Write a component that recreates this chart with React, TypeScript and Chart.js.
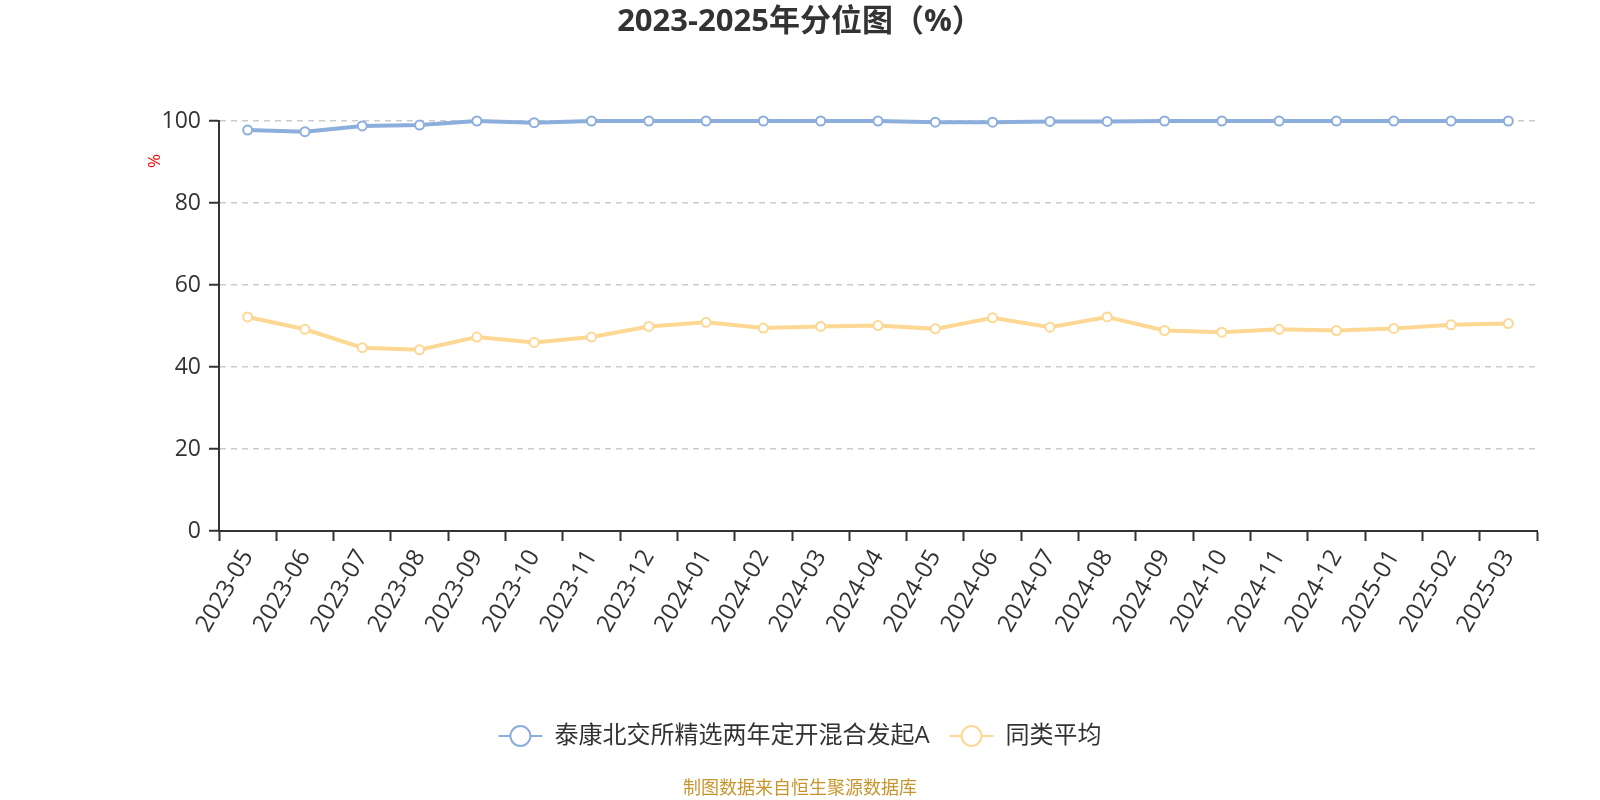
import React, { useEffect, useRef } from "react";
import { Chart, registerables } from "chart.js";

Chart.register(...registerables);

const TITLE = "2023-2025年分位图（%）";
const FOOTER = "制图数据来自恒生聚源数据库";
const Y_NAME = "%";
const categories = [
  "2023-05", "2023-06", "2023-07", "2023-08", "2023-09", "2023-10", "2023-11", "2023-12",
  "2024-01", "2024-02", "2024-03", "2024-04", "2024-05", "2024-06", "2024-07", "2024-08",
  "2024-09", "2024-10", "2024-11", "2024-12", "2025-01", "2025-02", "2025-03",
];
const fundName = "泰康北交所精选两年定开混合发起A";
const fundValues = [
  97.8, 97.4, 98.8, 99.0, 100, 99.6, 100, 100, 100, 100, 100, 100, 99.7, 99.7, 99.9, 99.9,
  100, 100, 100, 100, 100, 100, 100,
];
const avgName = "同类平均";
const avgValues = [
  52.2, 49.2, 44.7, 44.2, 47.3, 46.0, 47.3, 49.9, 50.9, 49.5, 49.9, 50.1, 49.3, 52.0, 49.7, 52.2,
  48.9, 48.5, 49.2, 48.9, 49.4, 50.3, 50.6,
];
const yTicks = [0, 20, 40, 60, 80, 100];

const BLUE = "#8caedd";
const YELLOW = "#fdd894";
const FONT = '"Open Sans", "Noto Sans CJK SC", sans-serif';

const decorPlugin = {
  id: "decor",
  afterDraw(chart: any) {
    const ctx = chart.ctx;
    ctx.save();
    // title
    ctx.fillStyle = "#333";
    ctx.font = `bold 31px ${FONT}`;
    ctx.textAlign = "center";
    ctx.textBaseline = "middle";
    ctx.fillText(TITLE, 800, 22);

    // y axis name
    ctx.save();
    ctx.translate(155, 161);
    ctx.rotate(-Math.PI / 2);
    ctx.fillStyle = "#ff0000";
    ctx.font = `17px ${FONT}`;
    ctx.fillText(Y_NAME, 0, 0);
    ctx.restore();

    // legend
    const ds = chart.data.datasets;
    ctx.font = `24px ${FONT}`;
    const iconW = 44;
    const gapIconText = 12;
    const gapItems = 20;
    const widths = ds.map((d: any) => iconW + gapIconText + ctx.measureText(d.label).width);
    const total = widths.reduce((a: number, b: number) => a + b, 0) + gapItems * (ds.length - 1);
    let x = 800 - total / 2;
    const ly = 736;
    ds.forEach((d: any, i: number) => {
      ctx.strokeStyle = d.borderColor;
      ctx.lineWidth = 2;
      ctx.beginPath();
      ctx.moveTo(x, ly);
      ctx.lineTo(x + iconW, ly);
      ctx.stroke();
      ctx.beginPath();
      ctx.arc(x + iconW / 2, ly, 10, 0, Math.PI * 2);
      ctx.fillStyle = "#fff";
      ctx.fill();
      ctx.stroke();
      ctx.fillStyle = "#333";
      ctx.textAlign = "left";
      ctx.fillText(d.label, x + iconW + gapIconText, ly);
      x += widths[i] + gapItems;
    });

    // footer
    ctx.fillStyle = "#c8952d";
    ctx.font = `18px ${FONT}`;
    ctx.textAlign = "center";
    ctx.fillText(FOOTER, 800, 789);
    ctx.restore();
  },
};

export default function App() {
  const ref = useRef<HTMLCanvasElement | null>(null);
  useEffect(() => {
    document.body.style.margin = "0";
    const chart = new Chart(ref.current as HTMLCanvasElement, {
      type: "line",
      data: {
        labels: categories,
        datasets: [
          {
            label: fundName,
            data: fundValues,
            borderColor: BLUE,
            backgroundColor: "#fff",
            borderWidth: 4,
            pointRadius: 4.5,
            pointBorderWidth: 2,
            pointBackgroundColor: "#fff",
            pointBorderColor: BLUE,
            tension: 0,
            clip: false as any,
          },
          {
            label: avgName,
            data: avgValues,
            borderColor: YELLOW,
            backgroundColor: "#fff",
            borderWidth: 4,
            pointRadius: 4.5,
            pointBorderWidth: 2,
            pointBackgroundColor: "#fff",
            pointBorderColor: YELLOW,
            tension: 0,
            clip: false as any,
          },
        ],
      },
      options: {
        animation: false,
        responsive: false,
        devicePixelRatio: 1,
        layout: { padding: { top: 121, right: 63, bottom: 0, left: 0 } },
        plugins: {
          legend: { display: false },
          title: { display: false },
          tooltip: { enabled: false },
        },
        scales: {
          x: {
            type: "category",
            offset: true,
            afterFit: (s: any) => {
              s.height = 269;
            },
            grid: {
              offset: true,
              drawOnChartArea: false,
              drawTicks: true,
              tickLength: 10,
              tickColor: "#333",
              tickWidth: 2,
            },
            border: { display: true, color: "#333", width: 2 },
            ticks: {
              autoSkip: false,
              maxRotation: 60,
              minRotation: 60,
              padding: 4,
              color: "#333",
              font: { size: 24, family: FONT },
            },
          },
          y: {
            min: 0,
            max: 100,
            afterFit: (s: any) => {
              s.width = 219;
            },
            afterBuildTicks: (s: any) => {
              s.ticks = yTicks.map((v) => ({ value: v }));
            },
            grid: {
              color: "#cccccc",
              lineWidth: 1.5,
              drawTicks: true,
              tickLength: 10,
              tickColor: "#333",
              tickWidth: 2,
              tickBorderDash: [],
              borderDash: [6, 5],
            } as any,
            border: { display: true, color: "#333", width: 2, dash: [6, 5] } as any,
            ticks: {
              padding: 8,
              color: "#333",
              font: { size: 23, family: FONT },
            },
          },
        },
      },
      plugins: [decorPlugin],
    });
    return () => chart.destroy();
  }, []);
  return (
    <div style={{ position: "absolute", left: 0, top: 0, width: 1600, height: 800, background: "#fff" }}>
      <canvas ref={ref} width={1600} height={800} style={{ width: 1600, height: 800 }} />
    </div>
  );
}
